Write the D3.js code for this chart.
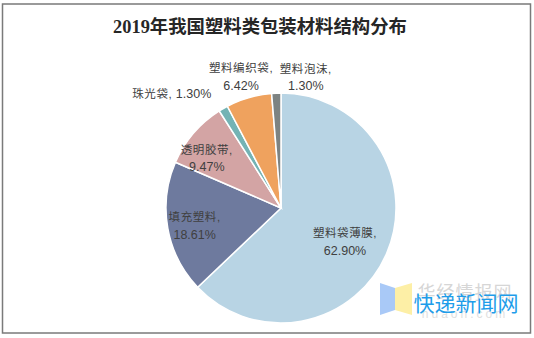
<!DOCTYPE html>
<html><head><meta charset="utf-8">
<script src="https://cdn.jsdelivr.net/npm/d3@7"></script>
<style>body{margin:0;background:#fff}svg{display:block}</style>
</head><body><svg id="c" width="534" height="338"></svg>
<script>
const title = "2019年我国塑料类包装材料结构分布";
const categories = ["塑料袋薄膜","填充塑料","透明胶带","珠光袋","塑料编织袋","塑料泡沫"];
const values = [62.90, 18.61, 9.47, 1.30, 6.42, 1.30];
const colors = ["#B8D4E4","#6E7A9E","#D3A4A4","#74B3B4","#EFA25E","#7D8382"];

const svg = d3.select("#c");
svg.append("rect").attr("x",2.5).attr("y",4).attr("width",528).attr("height",329)
  .attr("fill","#fff").attr("stroke","#7a7a7a").attr("stroke-width",1.5);

const tt = svg.append("text").attr("x",260).attr("y",33).attr("text-anchor","middle")
  .attr("font-family","'Liberation Serif','Noto Sans CJK SC',serif").attr("font-weight","bold")
  .attr("font-size",20).attr("fill","#262626").text(title);
const tw = tt.node().getComputedTextLength();
if (tw > 0) tt.attr("font-size", Math.min(21, 20*294/tw));

const cx = 281, cy = 208, R = 115;
const data = categories.map((c,i)=>({name:c,value:values[i],color:colors[i]}));
const pie = d3.pie().value(d=>d.value).sort(null).startAngle(0).endAngle(2*Math.PI);
const arcs = pie(data);
const arc = d3.arc().innerRadius(0).outerRadius(R);
const g = svg.append("g").attr("transform",`translate(${cx},${cy})`);
g.selectAll("path").data(arcs).join("path").attr("d",arc)
  .attr("fill",d=>d.data.color).attr("stroke","#fff").attr("stroke-width",1.5);

// label layout: [radius, angle offset (deg), single line?]
const layout = [
  {r:72, da:4, one:false},
  {r:88, da:-1, one:false},
  {r:90, da:-6, one:false},
  {r:158, da:-13.6, one:true},
  {r:138, da:-0.6, one:false},
  {r:134, da:13, one:false}
];
const lg = g.append("g").attr("font-family","'Liberation Sans','Noto Sans CJK SC',sans-serif")
  .attr("font-size",12.5).attr("fill","#404040").attr("text-anchor","middle");
arcs.forEach((a,i)=>{
  const L = layout[i];
  const ang = (a.startAngle+a.endAngle)/2 + L.da*Math.PI/180;
  const x = L.r*Math.sin(ang), y = -L.r*Math.cos(ang);
  const pct = a.data.value.toFixed(2)+"%";
  const t = lg.append("text").attr("x",x).attr("y",y);
  if (L.one) {
    t.attr("dy","0.35em");
    t.append("tspan").attr("font-size",11.5).attr("letter-spacing",0.6).text(a.data.name+",");
    t.append("tspan").text(" "+pct);
  } else {
    t.append("tspan").attr("x",x).attr("dy","-0.3em").attr("font-size",11.5).attr("letter-spacing",0.6).text(a.data.name+",");
    t.append("tspan").attr("x",x).attr("dy","1.4em").text(pct);
  }
});

// watermark
const wm = svg.append("g");
wm.append("path").attr("d","M380,283 L395,288 L395,310 L380,315 Z").attr("fill","#A9C9F7");
wm.append("path").attr("d","M395,288 L412,283 L412,315 L395,310 Z").attr("fill","#FDEFA6");
wm.append("text").attr("x",465).attr("y",299).attr("text-anchor","middle")
  .attr("font-family","'Noto Sans CJK SC',sans-serif").attr("font-size",18).attr("fill","#d6d6d6")
  .attr("letter-spacing",1).text("华经情报网");
wm.append("text").attr("x",465).attr("y",318).attr("text-anchor","middle")
  .attr("font-family","'Liberation Sans',sans-serif").attr("font-size",12).attr("fill","#e0e0e0")
  .attr("letter-spacing",3).text("huaon.com");
wm.append("text").attr("x",466).attr("y",311).attr("text-anchor","middle")
  .attr("font-family","'Noto Sans CJK SC',sans-serif").attr("font-size",21).attr("fill","#1E9DEA")
  .text("快递新闻网");
</script></body></html>
